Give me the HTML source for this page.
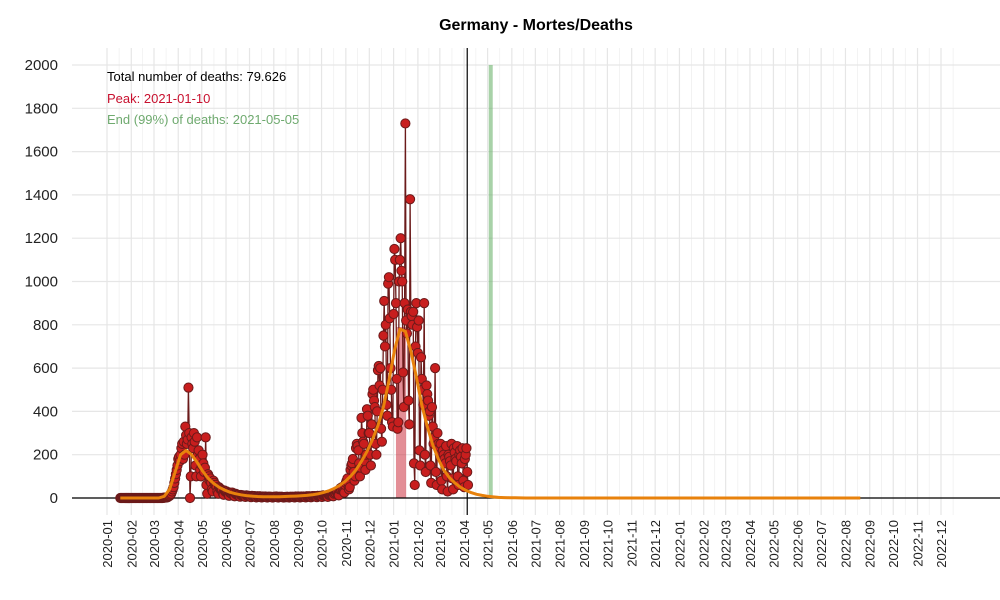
<!DOCTYPE html>
<html><head><meta charset="utf-8"><style>
body{margin:0;background:#fff;font-family:"Liberation Sans",sans-serif}
svg{display:block}
</style></head><body>
<svg id="chart" width="1000" height="600" font-family="Liberation Sans, sans-serif">
<text x="536" y="30" text-anchor="middle" font-size="16" font-weight="bold">Germany - Mortes/Deaths</text>
<g id="grid"></g><g id="bands"></g><g id="axes"></g><g id="series"></g><g id="fitg"></g><g id="ticks"></g>
<text x="107" y="81" font-size="13" fill="#000">Total number of deaths: 79.626</text>
<text x="107" y="103" font-size="13" fill="#c8102e">Peak: 2021-01-10</text>
<text x="107" y="124" font-size="13" fill="#6faa6f">End (99%) of deaths: 2021-05-05</text>
</svg>
<script>
const startDate="2020-01-18";
const deaths=[0,0,0,0,0,0,0,0,0,0,
0,0,0,0,0,0,0, 0,0,0,0,0,0,0, 0,0,0,0,0,0,0, 0,0,0,0,0,0,0, 0,0,0,0,0,0,0, 0,0,0,0,0,0,0,
0,0,0,1,1,2,2, 2,3,5,8,10,15,20, 30,40,50,70,90,110,130, 150,180,190,170,200,230,250,
180,260,200,330,290,250,270, 510,300,0,100,280,250,230, 300,260,150,100,280,200,220,
180,130,100,150,200,160,120, 140,280,60,20,110,100,80, 90,70,40,30,80,70,60,
60,50,30,20,50,45,40, 40,35,20,15,35,30,28, 30,25,15,10,25,22,20, 25,20,10,8,20,18,15,
15,14,8,6,14,12,10, 12,10,6,5,12,10,9, 10,9,5,4,10,9,8, 9,8,4,3,8,7,6, 8,7,3,3,7,6,6,
7,6,3,2,6,6,5, 6,5,2,2,6,5,5, 7,6,3,2,6,5,5, 6,5,2,2,5,5,4, 6,5,3,2,6,5,5, 6,5,3,3,7,6,6, 7,6,3,3,7,6,6, 7,6,4,3,8,7,7,
8,7,4,4,9,8,8, 9,8,5,4,10,9,9, 10,9,5,5,12,11,10, 10,12,8,5,15,14,12,
15,18,10,8,20,25,22, 30,25,15,12,40,45,40, 50,40,30,25,60,70,80, 90,70,40,50,130,150,160,
180,120,80,100,230,250,240, 220,160,100,140,370,300,260, 250,170,130,200,410,380,300,
300,200,150,340,480,500,450, 420,250,200,400,590,610,520, 600,320,260,500,750,910,700,
800,430,380,990,1020,830,600, 500,350,330,850,1150,1100,900, 550,320,350,1000,1100,1200,1050,
1000,580,420,900,1730,820,760, 870,450,340,1380,860,840,800, 860,160,60,700,900,790,670,
820,220,150,650,550,500,430, 900,200,120,520,480,450,380, 400,150,70,420,330,250,280,
600,120,60,300,250,230,200, 250,80,40,220,200,180,160, 240,100,30,200,190,170,150,
250,90,40,230,210,180,170, 240,100,60,200,220,190,160, 230,80,50,180,200,230,120,60];
const fitWeekly=[0,0,0,0,0,0,0,0,8,40,120,200,220,200,165,125,92,68,50,37,27,20,15,11,9,
7,6,6,6,6,7,8,9,10,12,15,19,25,33,44,58,77,100,130,170,215,270,335,420,540,680,780,770,680,560,430,330,245,180,130,95,70,50,36,25,17,12,8,5,3,2,1.5,1,0.5,
0,0,0,0,0,0,0,0,0,0,0,0,0,0,0,0,0,0,0,0,0,0,0,0,0,0,0,0,0,0,0,0,0,0,0,0,0,0,0,0,0,0,0,0,0,0,0,0,0,0,0,0,0,0,0,0,0,0,0,0,0,0];
const yTicks=[0,200,400,600,800,1000,1200,1400,1600,1800,2000];
const peakBand=["2021-01-04","2021-01-17"];
const peakHeight=790;
const endDate="2021-05-05";
const todayDate="2021-04-05";

const NS="http://www.w3.org/2000/svg";
const D0=Date.UTC(2020,0,1);
function dayOf(s){const p=s.split("-").map(Number);return (Date.UTC(p[0],p[1]-1,p[2]||1)-D0)/864e5;}
function X(d){return 107+d*0.7831;}
function Y(v){return 498-v*(433/2000);}
function mk(par,tag,at){const e=document.createElementNS(NS,tag);for(const k in at)e.setAttribute(k,at[k]);document.getElementById(par).appendChild(e);return e;}
for(let m=0;m<36;m++){const y=2020+Math.floor(m/12),mo=m%12;
 const d=(Date.UTC(y,mo,1)-D0)/864e5, dn=(Date.UTC(y,mo+1,1)-D0)/864e5;
 const g=mk("grid","line",{x1:X(d),x2:X(d),y1:48,y2:515,stroke:"#e6e6e6","stroke-width":1.2});
 
 
 const g2=mk("grid","line",{x1:X((d+dn)/2),x2:X((d+dn)/2),y1:48,y2:515,stroke:"#f0f0f0","stroke-width":0.8});
 
 
 const lbl=y+"-"+String(mo+1).padStart(2,"0");
 const t=mk("ticks","text",{transform:`translate(${X(d)+5},520) rotate(-90)`,"text-anchor":"end","font-size":13,fill:"#222"});
 t.textContent=lbl;
 
 
}
yTicks.forEach(v=>{const l=mk("grid","line",{x1:72,x2:1000,y1:Y(v),y2:Y(v),stroke:"#e6e6e6","stroke-width":1.2});
 
 
 const t=mk("ticks","text",{x:58,y:Y(v)+5,"text-anchor":"end","font-size":15,fill:"#222"});t.textContent=v;
 
 });
const pb=mk("bands","rect",{x:X(dayOf(peakBand[0])),y:Y(peakHeight),width:X(dayOf(peakBand[1]))-X(dayOf(peakBand[0])),height:498-Y(peakHeight),fill:"rgba(200,30,45,0.5)"});


const eb=mk("bands","rect",{x:X(dayOf(endDate))-2,y:65,width:4,height:433,fill:"rgba(110,180,110,0.6)"});


const ax=mk("axes","line",{x1:72,x2:1000,y1:498,y2:498,stroke:"#000","stroke-width":1.2});


const tl=mk("axes","line",{x1:X(dayOf(todayDate)),x2:X(dayOf(todayDate)),y1:48,y2:515,stroke:"#000","stroke-width":1.2});


const s0=dayOf(startDate);
let pts=deaths.map((v,i)=>X(s0+i).toFixed(1)+","+Y(v).toFixed(1)).join(" ");
const pl=mk("series","polyline",{points:pts,fill:"none",stroke:"#6b1a1a","stroke-width":1.3});


deaths.forEach((v,i)=>{const c=mk("series","circle",{cx:X(s0+i),cy:Y(v),r:4.6,fill:"#c81e1e",stroke:"#6b1a1a","stroke-width":1});
 
 });
let fp=fitWeekly.map((v,i)=>X(s0+i*7).toFixed(1)+","+Y(v).toFixed(1)).join(" ");
const fl=mk("fitg","polyline",{points:fp,fill:"none",stroke:"#e8820c","stroke-width":3,"stroke-linejoin":"round"});


</script>
</body></html>
